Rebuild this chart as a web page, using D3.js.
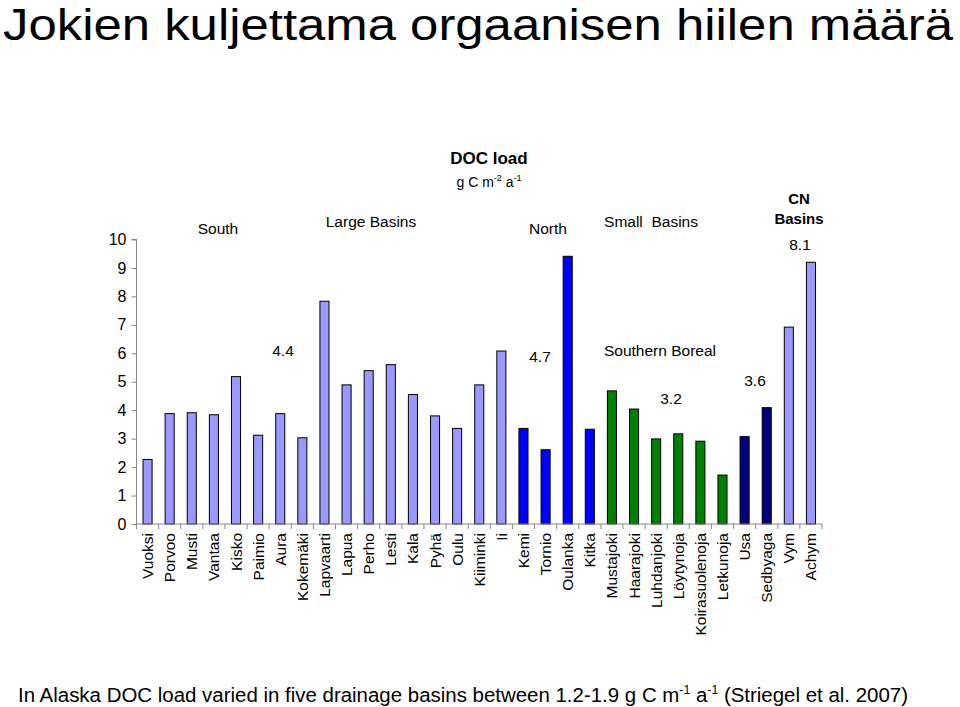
<!DOCTYPE html>
<html>
<head>
<meta charset="utf-8">
<script src="https://cdn.jsdelivr.net/npm/d3@7"></script>
<style>
  html, body { margin: 0; padding: 0; background: #fff; }
  svg { display: block; }
  text { font-family: "Liberation Sans", Arial, sans-serif; fill: #000; }
</style>
</head>
<body>
<svg id="chart" width="960" height="707"></svg>
<script>
// ---- data ----
const categories = ["Vuoksi","Porvoo","Musti","Vantaa","Kisko","Paimio","Aura","Kokemäki","Lapvaarti","Lapua","Perho","Lesti","Kala","Pyhä","Oulu","Kiiminki","Ii","Kemi","Tornio","Oulanka","Kitka","Mustajoki","Haarajoki","Luhdanjoki","Löytynoja","Koirasuolenoja","Letkunoja","Usa","Sedbyaga","Vym","Achym"];
const docValues = [2.27,3.88,3.91,3.84,5.18,3.12,3.88,3.03,7.83,4.89,5.39,5.60,4.55,3.80,3.36,4.89,6.08,3.36,2.61,9.41,3.33,4.68,4.04,2.99,3.17,2.91,1.72,3.07,4.09,6.92,9.20];
const groups = ["south","south","south","south","south","south","south","south","south","south","south","south","south","south","south","south","south","north","north","north","north","boreal","boreal","boreal","boreal","boreal","boreal","usa","usa","cn","cn"];
const groupColors = {south:"#9999ff", north:"#0000ff", boreal:"#008000", usa:"#000080", cn:"#9999ff"};
const yTicks = [0,1,2,3,4,5,6,7,8,9,10];

const svg = d3.select("#chart");

// scales
const x = d3.scaleBand().domain(categories).range([136.5, 822]).padding(0);
const y = d3.scaleLinear().domain([0, 10]).range([524, 239.5]);
const barW = x.bandwidth() * 0.41;

// title
svg.append("text")
  .attr("x", 3).attr("y", 40)
  .attr("textLength", 950).attr("lengthAdjust", "spacingAndGlyphs")
  .style("font-size", "44px")
  .style("font-family", "'Liberation Sans Narrow', 'Liberation Sans', Arial, sans-serif")
  .text("Jokien kuljettama orgaanisen hiilen määrä");

// bars
svg.append("g").selectAll("rect")
  .data(categories)
  .join("rect")
  .attr("x", (d) => x(d) + (x.bandwidth() - barW) / 2)
  .attr("y", (d, i) => y(docValues[i]))
  .attr("width", barW)
  .attr("height", (d, i) => y(0) - y(docValues[i]))
  .attr("fill", (d, i) => groupColors[groups[i]])
  .attr("stroke", "#000")
  .attr("stroke-width", 1);

// y axis
const yAxis = svg.append("g")
  .attr("transform", `translate(${x.range()[0]},0)`)
  .call(d3.axisLeft(y).tickValues(yTicks).tickSize(5).tickPadding(5).tickFormat(d3.format("d")));
yAxis.select(".domain").attr("stroke", "#888").attr("d", `M-5,${y(10)}H0V${y(0)}`);
yAxis.selectAll(".tick line").attr("stroke", "#888");
yAxis.selectAll(".tick text").style("font-size", "16px").style("font-family", "'Liberation Sans', Arial, sans-serif").attr("fill", "#000");

// x axis line and boundary ticks
const xg = svg.append("g");
xg.append("line")
  .attr("x1", x.range()[0]).attr("x2", x.range()[1])
  .attr("y1", y(0)).attr("y2", y(0))
  .attr("stroke", "#888");
const boundaries = categories.map((d) => x(d)).concat([x.range()[1]]);
xg.selectAll("line.tk").data(boundaries).join("line")
  .attr("class", "tk")
  .attr("x1", (d) => d).attr("x2", (d) => d)
  .attr("y1", y(0)).attr("y2", y(0) + 5)
  .attr("stroke", "#888");
xg.selectAll("text").data(categories).join("text")
  .attr("transform", (d) => `translate(${x(d) + x.bandwidth() / 2 + 5.5},${y(0) + 9}) rotate(-90)`)
  .attr("text-anchor", "end")
  .style("font-size", "15.5px")
  .text((d) => d);

// annotations
const ann = svg.append("g").attr("text-anchor", "middle");
ann.append("text").attr("x", 489).attr("y", 164).style("font-size", "17px").style("font-weight", "bold").text("DOC load");
const unit = ann.append("text").attr("x", 489).attr("y", 187).style("font-size", "14px");
unit.append("tspan").text("g C m");
unit.append("tspan").attr("dy", -6).style("font-size", "9px").text("-2");
unit.append("tspan").attr("dy", 6).text(" a");
unit.append("tspan").attr("dy", -6).style("font-size", "9px").text("-1");

ann.append("text").attr("x", 218).attr("y", 234).style("font-size", "15.5px").text("South");
ann.append("text").attr("x", 371).attr("y", 227).style("font-size", "15.5px").text("Large Basins");
ann.append("text").attr("x", 548).attr("y", 234).style("font-size", "15.5px").text("North");
ann.append("text").attr("x", 651).attr("y", 227).style("font-size", "15.5px").attr("xml:space", "preserve").text("Small  Basins");
ann.append("text").attr("x", 799).attr("y", 204).style("font-size", "15px").style("font-weight", "bold").text("CN");
ann.append("text").attr("x", 799).attr("y", 224).style("font-size", "15px").style("font-weight", "bold").text("Basins");
ann.append("text").attr("x", 800).attr("y", 250).style("font-size", "15.5px").text("8.1");
ann.append("text").attr("x", 283).attr("y", 356).style("font-size", "15.5px").text("4.4");
ann.append("text").attr("x", 540).attr("y", 362).style("font-size", "15.5px").text("4.7");
ann.append("text").attr("x", 660).attr("y", 356).style("font-size", "15.5px").text("Southern Boreal");
ann.append("text").attr("x", 671).attr("y", 404).style("font-size", "15.5px").text("3.2");
ann.append("text").attr("x", 755).attr("y", 386).style("font-size", "15.5px").text("3.6");

// footer
const foot = svg.append("text").attr("x", 18).attr("y", 702)
  .attr("textLength", 890).attr("lengthAdjust", "spacingAndGlyphs")
  .style("font-size", "20px")
  .style("font-family", "'Liberation Sans Narrow', 'Liberation Sans', Arial, sans-serif");
foot.append("tspan").text("In Alaska DOC load varied in five drainage basins between 1.2-1.9 g C m");
foot.append("tspan").attr("dy", -8).style("font-size", "12px").text("-1");
foot.append("tspan").attr("dy", 8).text(" a");
foot.append("tspan").attr("dy", -8).style("font-size", "12px").text("-1");
foot.append("tspan").attr("dy", 8).text(" (Striegel et al. 2007)");
</script>
</body>
</html>
